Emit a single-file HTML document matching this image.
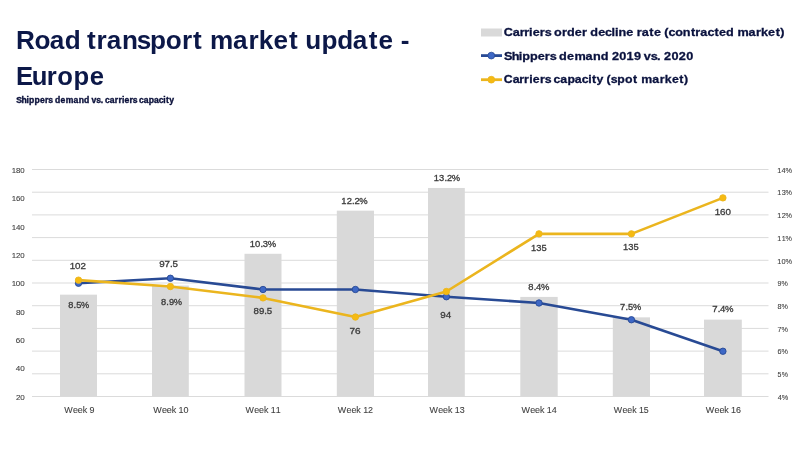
<!DOCTYPE html>
<html lang="en">
<head>
<meta charset="utf-8">
<title>Road transport market update - Europe</title>
<style>
html,body{margin:0;padding:0;background:#fff;}
body{width:800px;height:450px;overflow:hidden;font-family:"Liberation Sans",sans-serif;}
svg{display:block;}
svg text{font-family:"Liberation Sans",sans-serif;white-space:pre;}
</style>
</head>
<body>
<svg width="800" height="450" viewBox="0 0 800 450">
<rect x="0" y="0" width="800" height="450" fill="#ffffff"/>
<g id="shapes">
<rect x="32" y="169.00" width="736.5" height="1" fill="#dbdbdb"/>
<rect x="32" y="191.70" width="736.5" height="1" fill="#dbdbdb"/>
<rect x="32" y="214.40" width="736.5" height="1" fill="#dbdbdb"/>
<rect x="32" y="237.10" width="736.5" height="1" fill="#dbdbdb"/>
<rect x="32" y="259.80" width="736.5" height="1" fill="#dbdbdb"/>
<rect x="32" y="282.50" width="736.5" height="1" fill="#dbdbdb"/>
<rect x="32" y="305.20" width="736.5" height="1" fill="#dbdbdb"/>
<rect x="32" y="327.90" width="736.5" height="1" fill="#dbdbdb"/>
<rect x="32" y="350.60" width="736.5" height="1" fill="#dbdbdb"/>
<rect x="32" y="373.30" width="736.5" height="1" fill="#dbdbdb"/>
<rect x="32" y="396.00" width="736.5" height="1" fill="#dbdbdb"/>
<rect x="60.00" y="294.65" width="37.00" height="101.85" fill="#d9d9d9"/>
<rect x="152.00" y="285.57" width="36.80" height="110.93" fill="#d9d9d9"/>
<rect x="244.50" y="253.79" width="37.00" height="142.71" fill="#d9d9d9"/>
<rect x="336.80" y="210.66" width="37.20" height="185.84" fill="#d9d9d9"/>
<rect x="428.00" y="187.96" width="36.80" height="208.54" fill="#d9d9d9"/>
<rect x="520.30" y="296.92" width="37.40" height="99.58" fill="#d9d9d9"/>
<rect x="612.80" y="317.35" width="37.20" height="79.15" fill="#d9d9d9"/>
<rect x="704.00" y="319.62" width="37.80" height="76.88" fill="#d9d9d9"/>
<polyline points="78.50,283.25 170.40,278.25 263.00,289.50 355.40,289.50 446.40,296.75 539.00,303.00 631.40,319.75 722.90,351.25" fill="none" stroke="#284a94" stroke-width="2.6" stroke-linejoin="round" stroke-linecap="round"/>
<circle cx="78.50" cy="283.25" r="3.2" fill="#3e68c6" stroke="#284a94" stroke-width="0.9"/>
<circle cx="170.40" cy="278.25" r="3.2" fill="#3e68c6" stroke="#284a94" stroke-width="0.9"/>
<circle cx="263.00" cy="289.50" r="3.2" fill="#3e68c6" stroke="#284a94" stroke-width="0.9"/>
<circle cx="355.40" cy="289.50" r="3.2" fill="#3e68c6" stroke="#284a94" stroke-width="0.9"/>
<circle cx="446.40" cy="296.75" r="3.2" fill="#3e68c6" stroke="#284a94" stroke-width="0.9"/>
<circle cx="539.00" cy="303.00" r="3.2" fill="#3e68c6" stroke="#284a94" stroke-width="0.9"/>
<circle cx="631.40" cy="319.75" r="3.2" fill="#3e68c6" stroke="#284a94" stroke-width="0.9"/>
<circle cx="722.90" cy="351.25" r="3.2" fill="#3e68c6" stroke="#284a94" stroke-width="0.9"/>
<polyline points="78.50,280.16 170.40,286.55 263.00,297.90 355.40,317.05 446.40,291.51 539.00,233.84 631.40,233.84 722.90,197.88" fill="none" stroke="#ebb51e" stroke-width="2.6" stroke-linejoin="round" stroke-linecap="round"/>
<circle cx="78.50" cy="280.16" r="3.2" fill="#f6ba12" stroke="#ebb51e" stroke-width="0.9"/>
<circle cx="170.40" cy="286.55" r="3.2" fill="#f6ba12" stroke="#ebb51e" stroke-width="0.9"/>
<circle cx="263.00" cy="297.90" r="3.2" fill="#f6ba12" stroke="#ebb51e" stroke-width="0.9"/>
<circle cx="355.40" cy="317.05" r="3.2" fill="#f6ba12" stroke="#ebb51e" stroke-width="0.9"/>
<circle cx="446.40" cy="291.51" r="3.2" fill="#f6ba12" stroke="#ebb51e" stroke-width="0.9"/>
<circle cx="539.00" cy="233.84" r="3.2" fill="#f6ba12" stroke="#ebb51e" stroke-width="0.9"/>
<circle cx="631.40" cy="233.84" r="3.2" fill="#f6ba12" stroke="#ebb51e" stroke-width="0.9"/>
<circle cx="722.90" cy="197.88" r="3.2" fill="#f6ba12" stroke="#ebb51e" stroke-width="0.9"/>
<rect x="481" y="28.5" width="21" height="8" fill="#d9d9d9"/>
<line x1="481" y1="55.6" x2="502" y2="55.6" stroke="#284a94" stroke-width="2.8"/>
<circle cx="491.3" cy="55.6" r="3.4" fill="#3e68c6" stroke="#284a94" stroke-width="0.8"/>
<line x1="481" y1="79.7" x2="502" y2="79.7" stroke="#ebb51e" stroke-width="2.8"/>
<circle cx="491.3" cy="79.7" r="3.4" fill="#f6ba12" stroke="#ebb51e" stroke-width="0.8"/>
</g>
<g id="texts">
<text transform="scale(1.0209,1)" x="15.67 33.70 48.75 63.35 77.91 85.22 94.53 104.61 119.47 133.87 146.84 162.41 178.20 189.17 198.57 205.73 228.31 243.45 253.35 267.89 283.13 292.53 299.07 314.91 330.35 345.52 361.25 370.82 385.35 392.51" y="49" font-size="25.6" fill="#0c1848" font-weight="bold">Road transport market update -</text>
<text transform="scale(1.0022,1)" x="16.00 31.76 46.70 57.21 73.29 89.68" y="85" font-size="25.6" fill="#0c1848" font-weight="bold">Europe</text>
<text transform="scale(1.0372,1)" x="15.67 20.70 25.61 28.08 33.31 38.55 43.33 46.54 50.68 52.92 58.24 63.32 70.82 75.86 81.03 86.22 88.22 92.90 97.08 99.53 101.33 105.86 110.72 114.18 117.59 120.07 124.86 128.07 132.21 134.00 138.53 143.42 148.38 153.13 157.46 160.10 163.19" y="103" font-size="8.3" fill="#0a103a" font-weight="bold" stroke="#0a103a" stroke-width="0.35">Shippers demand vs. carriers capacity</text>
<text transform="scale(1.0804,1)" x="466.37 474.66 481.00 485.14 489.74 493.10 499.61 504.11 509.81 512.85 520.07 524.72 532.01 538.71 543.40 546.37 553.67 559.90 565.92 569.19 572.50 579.71 586.35 589.35 593.92 601.04 605.42 612.06 614.84 618.81 625.05 632.05 639.51 643.59 648.16 654.82 661.38 665.45 672.05 679.26 682.54 692.87 699.79 704.33 710.97 717.95 722.28" y="36" font-size="11.7" fill="#0a123e" font-weight="bold" stroke="#0a123e" stroke-width="0.3">Carriers order decline rate (contracted market)</text>
<text transform="scale(1.0851,1)" x="464.49 471.56 478.00 481.31 488.45 495.61 502.08 506.59 512.26 515.21 522.48 529.34 539.63 546.51 553.56 560.76 563.90 570.63 577.35 584.33 590.72 593.20 599.79 605.56 608.88 612.02 618.75 625.50 632.54" y="60" font-size="11.7" fill="#0a123e" font-weight="bold" stroke="#0a123e" stroke-width="0.3">Shippers demand 2019 vs. 2020</text>
<text transform="scale(1.0526,1)" x="478.70 487.03 493.40 497.92 502.72 506.20 512.93 517.45 523.27 525.79 532.17 539.04 546.02 552.70 558.79 562.50 566.81 573.35 576.32 580.35 586.35 593.66 601.30 605.67 609.17 619.73 626.81 631.49 638.31 645.43 649.91" y="83" font-size="11.7" fill="#0a123e" font-weight="bold" stroke="#0a123e" stroke-width="0.3">Carriers capacity (spot market)</text>
<text transform="scale(1.1396,1)" x="61.26 65.85 70.63" y="269" font-size="8.6" fill="#3c3c3c" stroke="#3c3c3c" stroke-width="0.3">102</text>
<text transform="scale(1.1375,1)" x="140.10 144.73 149.43 151.61" y="267" font-size="8.6" fill="#3c3c3c" stroke="#3c3c3c" stroke-width="0.3">97.5</text>
<text transform="scale(1.1264,1)" x="225.06 230.03 234.68 236.91" y="314" font-size="8.6" fill="#3c3c3c" stroke="#3c3c3c" stroke-width="0.3">89.5</text>
<text transform="scale(1.1600,1)" x="301.31 305.94" y="334" font-size="8.6" fill="#3c3c3c" stroke="#3c3c3c" stroke-width="0.3">76</text>
<text transform="scale(1.1360,1)" x="387.63 392.29" y="318" font-size="8.6" fill="#3c3c3c" stroke="#3c3c3c" stroke-width="0.3">94</text>
<text transform="scale(1.0826,1)" x="490.45 495.44 500.27" y="251" font-size="8.6" fill="#3c3c3c" stroke="#3c3c3c" stroke-width="0.3">135</text>
<text transform="scale(1.0826,1)" x="575.43 580.42 585.26" y="250" font-size="8.6" fill="#3c3c3c" stroke="#3c3c3c" stroke-width="0.3">135</text>
<text transform="scale(1.1418,1)" x="625.96 630.56 635.36" y="215" font-size="8.6" fill="#3c3c3c" stroke="#3c3c3c" stroke-width="0.3">160</text>
<text transform="scale(1.0724,1)" x="63.54 68.63 71.10 75.62" y="308" font-size="8.6" fill="#3c3c3c" stroke="#3c3c3c" stroke-width="0.3">8.5%</text>
<text transform="scale(1.0838,1)" x="148.45 153.48 155.86 160.33" y="305" font-size="8.6" fill="#3c3c3c" stroke="#3c3c3c" stroke-width="0.3">8.9%</text>
<text transform="scale(1.0966,1)" x="227.74 232.58 237.47 239.68 244.17" y="247" font-size="8.6" fill="#3c3c3c" stroke="#3c3c3c" stroke-width="0.3">10.3%</text>
<text transform="scale(1.0952,1)" x="311.68 316.54 321.42 323.70 328.14" y="204" font-size="8.6" fill="#3c3c3c" stroke="#3c3c3c" stroke-width="0.3">12.2%</text>
<text transform="scale(1.0879,1)" x="398.69 403.65 408.51 410.87 415.31" y="181" font-size="8.6" fill="#3c3c3c" stroke="#3c3c3c" stroke-width="0.3">13.2%</text>
<text transform="scale(1.1021,1)" x="479.41 484.34 486.35 490.97" y="290" font-size="8.6" fill="#3c3c3c" stroke="#3c3c3c" stroke-width="0.3">8.4%</text>
<text transform="scale(1.0809,1)" x="573.69 578.72 581.09 585.60" y="310" font-size="8.6" fill="#3c3c3c" stroke="#3c3c3c" stroke-width="0.3">7.5%</text>
<text transform="scale(1.1108,1)" x="641.30 646.18 648.10 652.71" y="312" font-size="8.6" fill="#3c3c3c" stroke="#3c3c3c" stroke-width="0.3">7.4%</text>
<text transform="scale(0.9517,1)" x="67.49 76.65 81.80 86.92 91.68 94.13" y="413" font-size="9.4" fill="#414141" stroke="#414141" stroke-width="0.1">Week 9</text>
<text transform="scale(0.9568,1)" x="160.17 169.26 174.39 179.48 184.23 186.64 191.87" y="413" font-size="9.4" fill="#414141" stroke="#414141" stroke-width="0.1">Week 10</text>
<text transform="scale(0.9446,1)" x="259.85 269.10 274.29 279.45 284.23 286.70 291.92" y="413" font-size="9.4" fill="#414141" stroke="#414141" stroke-width="0.1">Week 11</text>
<text transform="scale(0.9518,1)" x="354.93 364.09 369.24 374.36 379.12 381.56 386.76" y="413" font-size="9.4" fill="#414141" stroke="#414141" stroke-width="0.1">Week 12</text>
<text transform="scale(0.9473,1)" x="453.34 462.55 467.73 472.87 477.64 480.10 485.32" y="413" font-size="9.4" fill="#414141" stroke="#414141" stroke-width="0.1">Week 13</text>
<text transform="scale(0.9550,1)" x="546.04 555.16 560.29 565.39 570.15 572.56 577.81" y="413" font-size="9.4" fill="#414141" stroke="#414141" stroke-width="0.1">Week 14</text>
<text transform="scale(0.9407,1)" x="652.32 661.62 666.83 672.00 676.79 679.29 684.32" y="413" font-size="9.4" fill="#414141" stroke="#414141" stroke-width="0.1">Week 15</text>
<text transform="scale(0.9526,1)" x="740.89 750.04 755.19 760.30 765.06 767.49 772.71" y="413" font-size="9.4" fill="#414141" stroke="#414141" stroke-width="0.1">Week 16</text>
<text transform="scale(0.9806,1)" x="11.92 16.22 20.75" y="173" font-size="8.0" fill="#414141" stroke="#414141" stroke-width="0.1">180</text>
<text transform="scale(0.9865,1)" x="11.85 16.12 20.60" y="201" font-size="8.0" fill="#414141" stroke="#414141" stroke-width="0.1">160</text>
<text transform="scale(0.9918,1)" x="11.78 16.06 20.47" y="230" font-size="8.0" fill="#414141" stroke="#414141" stroke-width="0.1">140</text>
<text transform="scale(0.9846,1)" x="11.87 16.15 20.64" y="258" font-size="8.0" fill="#414141" stroke="#414141" stroke-width="0.1">120</text>
<text transform="scale(0.9963,1)" x="11.73 15.93 20.35" y="286" font-size="8.0" fill="#414141" stroke="#414141" stroke-width="0.1">100</text>
<text transform="scale(1.0007,1)" x="15.89 20.25" y="315" font-size="8.0" fill="#414141" stroke="#414141" stroke-width="0.1">80</text>
<text transform="scale(1.0096,1)" x="15.73 20.03" y="343" font-size="8.0" fill="#414141" stroke="#414141" stroke-width="0.1">60</text>
<text transform="scale(1.0162,1)" x="15.61 19.91" y="371" font-size="8.0" fill="#414141" stroke="#414141" stroke-width="0.1">40</text>
<text transform="scale(1.0070,1)" x="15.78 20.09" y="400" font-size="8.0" fill="#414141" stroke="#414141" stroke-width="0.1">20</text>
<text transform="scale(0.9193,1)" x="845.59 850.06 854.43" y="173" font-size="8.0" fill="#414141" stroke="#414141" stroke-width="0.1">14%</text>
<text transform="scale(0.9035,1)" x="860.38 865.23 869.48" y="195" font-size="8.0" fill="#414141" stroke="#414141" stroke-width="0.1">13%</text>
<text transform="scale(0.9115,1)" x="852.83 857.59 861.80" y="218" font-size="8.0" fill="#414141" stroke="#414141" stroke-width="0.1">12%</text>
<text transform="scale(0.8966,1)" x="866.99 871.93 876.21" y="241" font-size="8.0" fill="#414141" stroke="#414141" stroke-width="0.1">11%</text>
<text transform="scale(0.9218,1)" x="843.27 847.78 852.07" y="264" font-size="8.0" fill="#414141" stroke="#414141" stroke-width="0.1">10%</text>
<text transform="scale(0.8896,1)" x="874.05 878.48" y="286" font-size="8.0" fill="#414141" stroke="#414141" stroke-width="0.1">9%</text>
<text transform="scale(0.8996,1)" x="864.33 868.84" y="309" font-size="8.0" fill="#414141" stroke="#414141" stroke-width="0.1">8%</text>
<text transform="scale(0.9100,1)" x="854.43 858.80" y="332" font-size="8.0" fill="#414141" stroke="#414141" stroke-width="0.1">7%</text>
<text transform="scale(0.9055,1)" x="858.64 863.08" y="354" font-size="8.0" fill="#414141" stroke="#414141" stroke-width="0.1">6%</text>
<text transform="scale(0.8759,1)" x="887.77 892.49" y="377" font-size="8.0" fill="#414141" stroke="#414141" stroke-width="0.1">5%</text>
<text transform="scale(0.9138,1)" x="851.12 855.51" y="400" font-size="8.0" fill="#414141" stroke="#414141" stroke-width="0.1">4%</text>
</g>
</svg>
</body>
</html>
